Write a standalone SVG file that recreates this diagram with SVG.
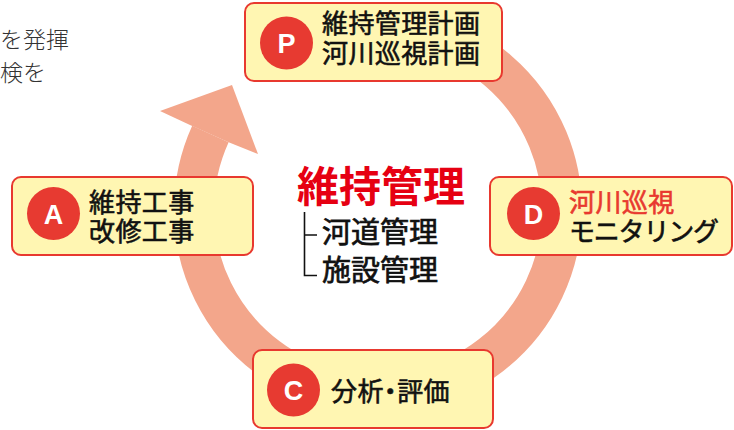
<svg xmlns="http://www.w3.org/2000/svg" width="734" height="430" viewBox="0 0 734 430">
<style>
.box{fill:#FFF6B2;stroke:#E8392F;stroke-width:2}
.dot{fill:#E73A31}
.let{font-family:"Liberation Sans",Arial,sans-serif;font-weight:bold;font-size:27px;fill:#fff;text-anchor:middle}
.t{font-family:"Noto Sans CJK JP","Noto Sans",sans-serif;font-size:26px;letter-spacing:0.4px;fill:#111;stroke:#111;stroke-width:0.6px}
.red{fill:#E8392F;stroke:#E8392F}
.title{font-family:"Noto Sans CJK JP","Noto Sans",sans-serif;font-size:42px;font-weight:bold;fill:#E60012}
.sub{font-family:"Noto Sans CJK JP","Noto Sans",sans-serif;font-size:29px;fill:#111;stroke:#111;stroke-width:0.7px}
.side{font-family:"Noto Sans CJK JP","Noto Sans",sans-serif;font-size:23px;font-weight:300;fill:#333}
</style>
<rect width="734" height="430" fill="#fff"/>
<g id="sidetext">
<text class="side" x="0" y="48">を発揮</text>
<text class="side" x="0" y="81">検を</text>
</g>
<g id="connectors">
<path d="M 346 28.8 A 184 184 0 1 1 210.4 134" fill="none" stroke="#F3A68B" stroke-width="40"/>
<polygon points="232,85 258,154 228,142 190,125 160,111" fill="#F3A68B"/>
</g>
<g id="center">
<text class="title" x="297" y="202">維持管理</text>
<path d="M304.5 212 V275.5 H317 M304.5 235 H317" fill="none" stroke="#111" stroke-width="1.6"/>
<text class="sub" x="322" y="243">河道管理</text>
<text class="sub" x="322" y="281">施設管理</text>
</g>
<g id="nodeP">
<rect class="box" x="245" y="3" width="257" height="78" rx="9"/>
<circle class="dot" cx="286.5" cy="43" r="26.5"/>
<text class="let" x="286.5" y="53">P</text>
<text class="t" x="322" y="33">維持管理計画</text>
<text class="t" x="322" y="63">河川巡視計画</text>
</g>
<g id="nodeD">
<rect class="box" x="490" y="177" width="242" height="78" rx="9"/>
<circle class="dot" cx="533.5" cy="213.5" r="26.5"/>
<text class="let" x="533.5" y="223.5">D</text>
<text class="t red" x="569" y="211.5">河川巡視</text>
<text class="t" x="569" y="240.5" style="letter-spacing:-1.2px">モニタリング</text>
</g>
<g id="nodeA">
<rect class="box" x="12" y="177" width="241" height="78" rx="9"/>
<circle class="dot" cx="53.5" cy="213.5" r="26.5"/>
<text class="let" x="53.5" y="223.5">A</text>
<text class="t" x="89" y="211.5">維持工事</text>
<text class="t" x="89" y="240.5">改修工事</text>
</g>
<g id="nodeC">
<rect class="box" x="253" y="350" width="240" height="78" rx="9"/>
<circle class="dot" cx="293.5" cy="390" r="26.5"/>
<text class="let" x="293.5" y="400">C</text>
<text class="t" x="331" y="401" style="font-feature-settings:'palt'">分析・評価</text>
</g>
</svg>
